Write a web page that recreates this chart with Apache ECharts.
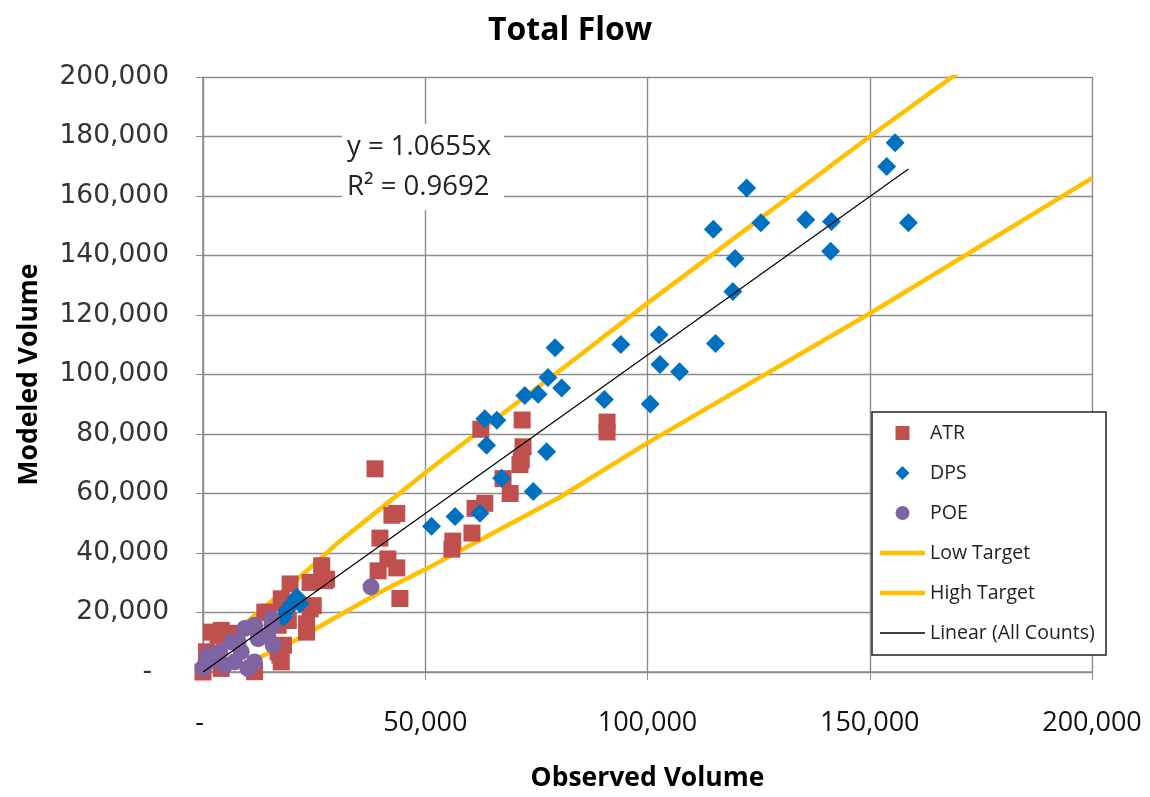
<!DOCTYPE html>
<html><head><meta charset="utf-8">
<script src="https://cdn.jsdelivr.net/npm/echarts@6/dist/echarts.min.js"></script>
<style>html,body{margin:0;padding:0;background:#fff}#c{width:1150px;height:797px}</style>
</head><body><div id="c"></div>
<script>
// ---- data ----
const chartTitle = 'Total Flow';
const xAxisName = 'Observed Volume';
const yAxisName = 'Modeled Volume';
const seriesNames = ['ATR', 'DPS', 'POE', 'Low Target', 'High Target', 'Linear (All Counts)'];
const equationLines = ['y = 1.0655x', 'R\u00B2 = 0.9692'];

const atrPoints = [
  [26700,35700],[27800,31200],[24100,30100],[27400,30700],[19600,29600],[24800,22300],
  [24100,21200],[23300,16200],[23300,13400],[18400,23400],[14700,20100],[18100,9000],
  [17300,5700],[11300,1300],[3400,12300],[6100,13000],[800,6800],[18800,19000],
  [19200,17300],[1900,13400],[4100,14000],[13900,20100],[17600,24600],[16900,15700],
  [16900,6800],[11600,100],[4100,1200],[0,0],[17600,3400],
  [38700,68300],[42500,52700],[43600,53300],[39800,45000],[41600,38000],[39400,34000],
  [43600,35000],[44300,24700],[62500,81600],[71800,84700],[63400,56700],[61200,55000],
  [60500,46700],[56200,44000],[56000,41300],[67500,65000],[69100,60000],[72000,75700],
  [71600,71300],[71300,69700],[90900,84000],[90900,80700]
];
const dpsPoints = [
  [155700,177900],[153800,169900],[158700,151000],[122300,162700],[114800,148800],
  [125500,151000],[135600,152000],[141400,151400],[141200,141400],[119700,139000],
  [119200,127900],[102600,113400],[115300,110400],[102800,103400],[107200,100900],
  [94000,110100],[79200,109000],[90300,91600],[100600,90100],[80700,95500],[77600,99000],
  [72400,92900],[75400,93400],[63400,85100],[66100,84600],[63800,76200],[77300,74000],
  [67200,65100],[74300,60700],[51400,49000],[56700,52300],[62300,53400],
  [21100,25100],[20000,22900],[18800,20700],[18100,18400],[21800,22900]
];
const poePoints = [
  [37800,28600],[15500,15700],[11700,14600],[0,1200],[1100,5700],[2600,4000],[4900,2300],
  [7100,3400],[8600,6800],[11600,3400],[7900,10100],[9400,14600],[11600,15700],
  [12400,11200],[14600,12300],[15400,17900],[6400,10100],[3800,6800],[400,2300],
  [10100,1200],[15800,9000]
];
const lowTarget = [
  [10000,3000],[20000,10000],[30000,18500],[40000,27000],[50000,34500],[60000,42500],
  [80000,58500],[100000,77000],[150000,120500],[200000,166000]
];
const highTarget = [
  [10000,17000],[20000,29500],[30000,43000],[40000,55000],[50000,67000],[60000,78500],
  [80000,101000],[100000,124000],[150000,180000],[200000,234000]
];
const trendLine = [[0,0],[158700,169100]];
const xTicks = { min: 0, max: 200000, interval: 50000 };
const yTicks = { min: 0, max: 200000, interval: 20000 };

// ---- chart ----
const fmt = (v, pad) => v === 0 ? '-' + pad : v.toLocaleString('en-US');
const chart = echarts.init(document.getElementById('c'));
const gridColor = '#8c8c8c';
const targetColor = '#FFC000';
chart.setOption({
  animation: false,
  backgroundColor: '#fff',
  title: {
    text: chartTitle, left: 483, top: 10,
    textStyle: { fontFamily: 'Open Sans', fontWeight: 'bold', fontSize: 32, color: '#000' }
  },
  grid: { left: 203, right: 58, top: 77, bottom: 120 },
  xAxis: {
    type: 'value', min: xTicks.min, max: xTicks.max, interval: xTicks.interval,
    name: xAxisName, nameLocation: 'middle', nameGap: 93,
    nameTextStyle: { fontFamily: 'Open Sans', fontWeight: 'bold', fontSize: 26.5, color: '#000' },
    axisLine: { show: true, lineStyle: { color: gridColor, width: 1.5 } },
    axisTick: { show: true, length: 8, lineStyle: { color: gridColor } },
    splitLine: { show: true, lineStyle: { color: gridColor, width: 1.4 } },
    axisLabel: { margin: 38, fontFamily: 'Open Sans', fontSize: 27, color: '#111',
      formatter: v => fmt(v, ' ') }
  },
  yAxis: {
    type: 'value', min: yTicks.min, max: yTicks.max, interval: yTicks.interval,
    name: yAxisName, nameLocation: 'middle', nameGap: 160, nameRotate: 90,
    nameTextStyle: { fontFamily: 'Open Sans', fontWeight: 'bold', fontSize: 26.5, color: '#000' },
    axisLine: { show: true, lineStyle: { color: gridColor, width: 1.5 } },
    axisTick: { show: true, length: 7, lineStyle: { color: gridColor } },
    splitLine: { show: true, lineStyle: { color: gridColor, width: 1.4 } },
    axisLabel: { margin: 34, fontFamily: 'DejaVu Sans', fontSize: 26.5, color: '#333',
      formatter: v => fmt(v, '  ') }
  },
  legend: {
    orient: 'vertical', left: 880, top: 423, padding: 0, z: 12,
    itemWidth: 45, itemHeight: 14, itemGap: 20, symbolKeepAspect: true,
    textStyle: { fontFamily: 'Open Sans', fontSize: 19.5, color: '#222', lineHeight: 14 },
    data: [
      { name: seriesNames[0], icon: 'path://M0,0L10,0L10,10L0,10Z' },
      { name: seriesNames[1], icon: 'path://M5,0L10,5L5,10L0,5Z' },
      { name: seriesNames[2], icon: 'circle' },
      { name: seriesNames[3], icon: 'path://M0,0L45,0L45,4.5L0,4.5Z' },
      { name: seriesNames[4], icon: 'path://M0,0L45,0L45,4.5L0,4.5Z' },
      { name: seriesNames[5], icon: 'path://M0,0L45,0L45,1.5L0,1.5Z' }
    ]
  },
  graphic: [
    { type: 'rect', z: 10, shape: { x: 872, y: 412, width: 234, height: 243 },
      style: { fill: '#fff', stroke: '#222', lineWidth: 1.5 } },
    { type: 'rect', z: 10, shape: { x: 342, y: 124, width: 162, height: 86 },
      style: { fill: '#fff', stroke: null } },
    { type: 'text', z: 11, left: 347, top: 127,
      style: { text: equationLines.join('\n'), fontFamily: 'Open Sans', fontSize: 27.5,
        lineHeight: 40, fill: '#222' } }
  ],
  series: [
    { name: seriesNames[0], type: 'scatter', z: 3, symbol: 'rect', symbolSize: 17,
      itemStyle: { color: '#C0504D', opacity: 1 }, data: atrPoints },
    { name: seriesNames[1], type: 'scatter', z: 3, symbol: 'diamond', symbolSize: 19,
      itemStyle: { color: '#0070C0', opacity: 1 }, data: dpsPoints },
    { name: seriesNames[2], type: 'scatter', z: 3, symbol: 'circle', symbolSize: 17,
      itemStyle: { color: '#8064A2', opacity: 1 }, data: poePoints },
    { name: seriesNames[3], type: 'line', z: 2, symbol: 'none', showSymbol: false,
      lineStyle: { color: targetColor, width: 4.5 }, itemStyle: { color: targetColor }, data: lowTarget },
    { name: seriesNames[4], type: 'line', z: 2, symbol: 'none', showSymbol: false,
      lineStyle: { color: targetColor, width: 4.5 }, itemStyle: { color: targetColor }, data: highTarget },
    { name: seriesNames[5], type: 'line', z: 4, symbol: 'none', showSymbol: false,
      lineStyle: { color: '#000', width: 1.2 }, itemStyle: { color: '#000' }, data: trendLine }
  ]
});
</script></body></html>
